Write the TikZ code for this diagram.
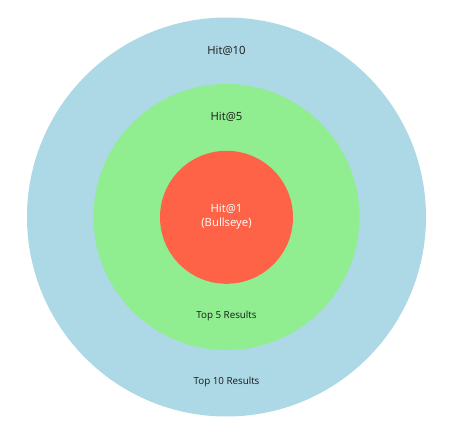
\documentclass[tikz,border=0pt]{standalone}
\usepackage{fontspec}
\setmainfont{Open Sans}
\definecolor{outerblue}{HTML}{ADD8E6}
\definecolor{midgreen}{HTML}{90EE90}
\definecolor{tomato}{HTML}{FF6347}
\begin{document}
\begin{tikzpicture}[x=1pt,y=-1pt,
  ring/.style={circle,draw=none,inner sep=0pt},
  biglabel/.style={font=\fontsize{11.3}{14}\selectfont,text=black!90,align=center},
  smalllabel/.style={font=\fontsize{9.8}{12}\selectfont,text=black!90,align=center}]
\useasboundingbox (0,0) rectangle (456,439);
\node[ring,fill=outerblue,minimum size=399pt] (outer) at (226.5,217) {};
\node[ring,fill=midgreen,minimum size=266pt] (mid) at (226.5,217) {};
\node[ring,fill=tomato,minimum size=133pt] (inner) at (226.5,217.3) {};
\node[biglabel] (h10) at (226.5,50.5) {Hit@10};
\node[biglabel] (h5) at (226.5,116.7) {Hit@5};
\node[biglabel,text=white] (h1) at (226.5,216.3) {Hit@1\\(Bullseye)};
\node[smalllabel] (t5) at (226.5,316) {Top 5 Results};
\node[smalllabel] (t10) at (226.5,382.3) {Top 10 Results};
\end{tikzpicture}
\end{document}
